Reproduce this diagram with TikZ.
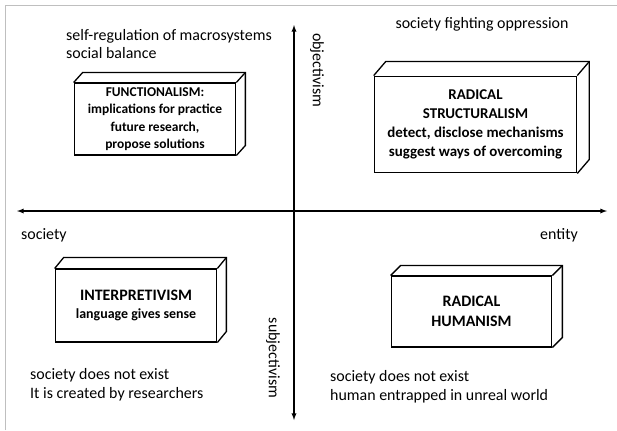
\documentclass[tikz,border=0pt]{standalone}
\usepackage{fontspec}
\setmainfont{Carlito}
\usepackage{tikz}
\usetikzlibrary{arrows,calc}
\tikzset{>=latex}
\tikzset{
  frameline/.style={draw=black!25, line width=1bp},
  axisline/.style={line width=1.3bp},
  cube/.style={draw, line width=1.3bp, align=center, inner sep=0pt,
    font=\bfseries\fontsize{13.5}{17.5}\selectfont},
  note/.style={inner sep=0pt, align=left, font=\fontsize{16}{19}\selectfont}
}
% top and right faces of a box node
\newcommand{\boxdepth}[3]{%
  \draw[line width=1.3bp] (#1.north west) -- ++(#2,#3)
    -- ($(#1.north east)+(#2,#3)$) -- ($(#1.south east)+(#2,#3)$) -- (#1.south east);
  \draw[line width=1.3bp] (#1.north east) -- ++(#2,#3);}

\begin{document}
\begin{tikzpicture}[x=1bp,y=-1bp]
  \useasboundingbox (0,0) rectangle (617,430);
  \draw[frameline] (5,430) -- (5,5) -- (617,5);

  % axes
  \coordinate (top) at (294,25);
  \coordinate (bottom) at (294,420);
  \coordinate (left) at (17,211);
  \coordinate (right) at (607,211);
  \draw[axisline,<->] (top) -- (bottom);
  \draw[axisline,<->] (left) -- (right);

  \node[note, rotate=-90] (obj) at (317,70) {objectivism};
  \node[note, rotate=-90] (subj) at (273,358) {subjectivism};
  \node[note, anchor=west] (soc) at (21,235) {society};
  \node[note, anchor=east] (ent) at (578,235) {entity};

  % quadrants
  \node[cube, minimum width=162, minimum height=72] (func) at (155,119)
    {FUNCTIONALISM:\\implications for practice\\future research,\\propose solutions};
  \boxdepth{func}{9}{-10}
  \node[cube, minimum width=203, minimum height=97,
    font=\bfseries\fontsize{15}{19}\selectfont] (rs) at (475.5,124.5)
    {RADICAL\\STRUCTURALISM\\detect, disclose mechanisms\\suggest ways of overcoming};
  \boxdepth{rs}{12}{-14}
  \node[cube, minimum width=162, minimum height=73] (interp) at (136,305.5)
    {\fontsize{16}{20}\selectfont INTERPRETIVISM\\\fontsize{14}{20}\selectfont language gives sense};
  \boxdepth{interp}{9}{-11}
  \node[cube, minimum width=161, minimum height=71,
    font=\bfseries\fontsize{16}{20}\selectfont] (rh) at (471.5,311.5)
    {RADICAL\\HUMANISM};
  \boxdepth{rh}{10}{-10}

  \node[note, anchor=west] (funcnote) at (66,44)
    {self-regulation of macrosystems\\social balance};
  \node[note] (rsnote) at (482,24) {society fighting oppression};
  \node[note, anchor=west] (interpnote) at (30,385)
    {society does not exist\\It is created by researchers};
  \node[note, anchor=west] (rhnote) at (330,387)
    {society does not exist\\human entrapped in unreal world};
\end{tikzpicture}
\end{document}
